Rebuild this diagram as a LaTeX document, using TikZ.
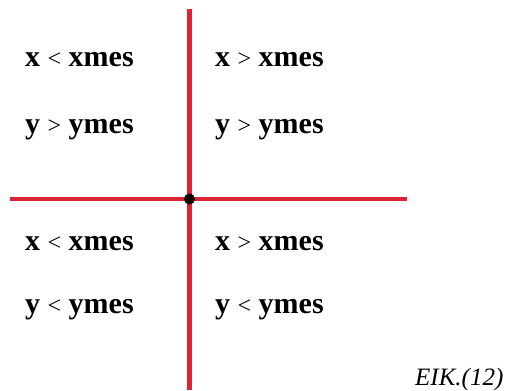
\documentclass[tikz,border=0pt]{standalone}
\usepackage{fontspec}
\setmainfont{Liberation Serif}
\definecolor{axred}{RGB}{220,36,52}
\newcommand{\lt}{{\fontsize{24}{24}\selectfont\mdseries<}}
\newcommand{\gt}{{\fontsize{24}{24}\selectfont\mdseries>}}
\begin{document}
\begin{tikzpicture}[x=1pt,y=-1pt,
  cond/.style={anchor=base west,inner sep=0pt,font=\fontsize{30}{36}\selectfont\bfseries},
  axis/.style={draw=axred,line width=4.5pt},
  caption/.style={anchor=base west,inner sep=0pt,font=\fontsize{25}{30}\selectfont\itshape}]
\useasboundingbox (0,0) rectangle (518,390);
\coordinate (o) at (189.5,199);
\coordinate (top) at (189.5,9);
\coordinate (bot) at (189.5,390);
\coordinate (lft) at (10,199);
\coordinate (rgt) at (407,199);
\draw[axis] (top) -- (bot);
\draw[axis] (lft) -- (rgt);
\fill (o) circle (5.5);
\node[cond] (tl1) at (25,67) {x \lt{} xmes};
\node[cond] (tl2) at (25,133) {y \gt{} ymes};
\node[cond] (tr1) at (215,67) {x \gt{} xmes};
\node[cond] (tr2) at (215,133) {y \gt{} ymes};
\node[cond] (bl1) at (25,250) {x \lt{} xmes};
\node[cond] (bl2) at (25,313) {y \lt{} ymes};
\node[cond] (br1) at (215,250) {x \gt{} xmes};
\node[cond] (br2) at (215,313) {y \lt{} ymes};
\node[caption] (cap) at (415,385) {EIK.(12)};
\end{tikzpicture}
\end{document}
